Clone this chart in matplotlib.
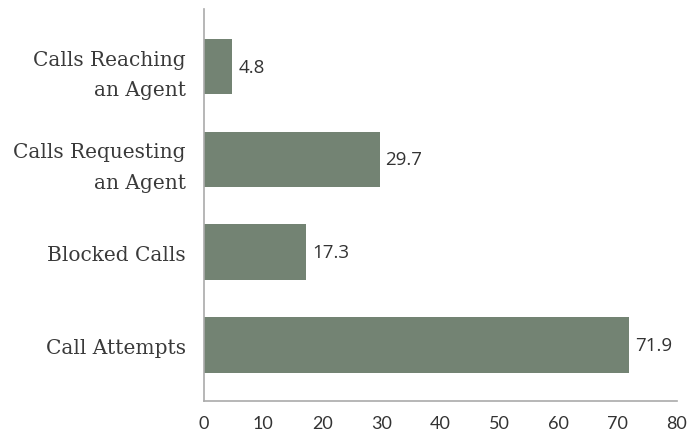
import matplotlib.pyplot as plt

# data, bottom to top
categories = ["Call Attempts", "Blocked Calls", "Calls Requesting\nan Agent", "Calls Reaching\nan Agent"]
values = [71.9, 17.3, 29.7, 4.8]
ticks = [0, 10, 20, 30, 40, 50, 60, 70, 80]

bar_color = "#738373"
text_color = "#333333"

fig = plt.figure(figsize=(6.87, 4.35), dpi=100)
ax = fig.add_axes([0.297, 0.076, 0.688, 0.901])

y = range(len(categories))
bars = ax.barh(y, values, height=0.6, color=bar_color)

for yi, v in zip(y, values):
    ax.text(v + 1.0, yi, str(v), va="center", ha="left", fontsize=13.5,
            family="Open Sans", color=text_color)

ax.set_xlim(0, 80)
ax.set_ylim(-0.6, 3.62)
ax.set_xticks(ticks)
ax.set_xticklabels([str(t) for t in ticks], family="Lato", fontsize=13, color=text_color)
ax.set_yticks(list(y))
ax.set_yticklabels(categories, family="DejaVu Serif", fontsize=14.5, color="#3a3a3a",
                   linespacing=1.75)
ax.tick_params(length=0)
ax.tick_params(axis="x", pad=10)
ax.tick_params(axis="y", pad=13)

for s in ["top", "right"]:
    ax.spines[s].set_visible(False)
for s in ["left", "bottom"]:
    ax.spines[s].set_color("#aaaaaa")
    ax.spines[s].set_linewidth(1.2)

fig.savefig("out.png", dpi=100)
